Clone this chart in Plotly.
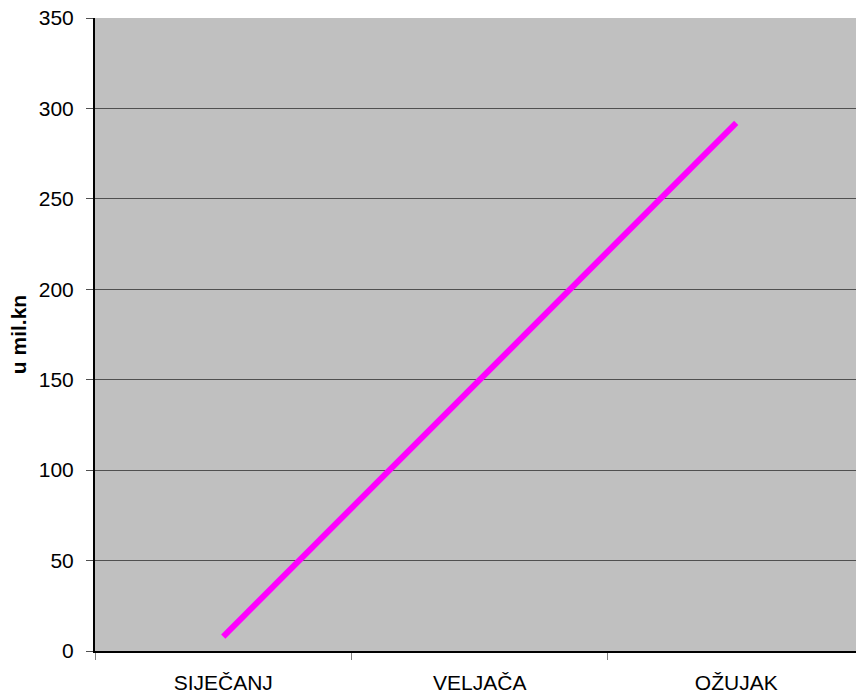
import plotly.graph_objects as go

categories = ["SIJEČANJ", "VELJAČA", "OŽUJAK"]
values = [8, 150, 292]
y_ticks = [0, 50, 100, 150, 200, 250, 300, 350]
y_title = "u mil.kn"

fig = go.Figure()
fig.add_trace(go.Scatter(
    x=categories, y=values, mode="lines",
    line=dict(color="#FF00FF", width=6),
    hoverinfo="skip", showlegend=False,
))

fig.update_layout(
    width=856, height=698,
    margin=dict(l=95, r=0, t=18, b=47),
    paper_bgcolor="white",
    plot_bgcolor="#C0C0C0",
    font=dict(family="Liberation Sans, Arial, sans-serif", size=21, color="black"),
)

fig.update_xaxes(
    type="category",
    range=[-0.5, 2.467],
    showgrid=False,
    ticks="outside", ticklen=7, tickcolor="#808080", tickwidth=1,
    tickson="boundaries",
    showline=True, linecolor="black", linewidth=2,
    tickfont=dict(size=21),
    ticklabelstandoff=12,
)

fig.update_yaxes(
    range=[0, 350],
    tickvals=y_ticks,
    showgrid=True, gridcolor="#505050", gridwidth=1,
    zeroline=False,
    ticks="outside", ticklen=7, tickcolor="#505050", tickwidth=1,
    showline=True, linecolor="black", linewidth=2,
    tickfont=dict(size=21),
    ticklabelstandoff=8,
    title=dict(text="<b>" + y_title + "</b>", font=dict(size=21), standoff=6),
)

fig.write_html(
    "out.html",
    config={"displayModeBar": False},
    post_script="document.body.style.margin='0';document.body.style.overflow='hidden';",
)
